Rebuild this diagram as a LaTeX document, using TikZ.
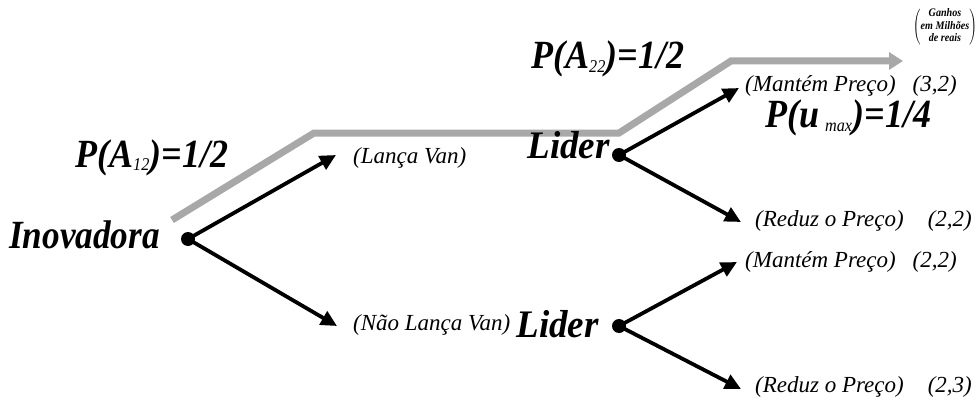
\documentclass[tikz,border=0pt]{standalone}
\usepackage{fontspec}
\setmainfont{Liberation Serif}
\usetikzlibrary{arrows.meta}
\tikzset{
  big/.style={font=\bfseries\itshape\fontsize{40}{40}\selectfont, inner sep=0pt, xscale=0.88},
  lider/.style={font=\bfseries\itshape\fontsize{39}{39}\selectfont, inner sep=0pt, anchor=base east, xscale=0.95},
  prob/.style={font=\bfseries\itshape\fontsize{40}{40}\selectfont, inner sep=0pt, anchor=base west, xscale=0.9},
  lab/.style={font=\itshape\fontsize{23}{23}\selectfont, inner sep=0pt, anchor=west},
  dotn/.style={circle, fill=black, minimum size=14pt, inner sep=0pt},
  arr/.style={line width=3.8pt, -{Triangle[length=16pt,width=15pt]}, shorten <=2pt},
  grayline/.style={line width=7pt, draw={rgb,255:red,168;green,168;blue,168}, line join=miter, -{Triangle[length=14pt,width=17pt]}},
}
\newcommand{\subtx}[1]{\textsubscript{\fontsize{18}{18}\selectfont\mdseries #1}}
\begin{document}
\begin{tikzpicture}[x=1pt,y=-1pt]
\useasboundingbox (0,0) rectangle (976,401);
% gray probability path
\coordinate (g0) at (172,220);
\coordinate (g1) at (314,133);
\coordinate (g2) at (619,133);
\coordinate (g3) at (731,61);
\coordinate (g4) at (903,61);
\draw[grayline] (g0) -- (g1) -- (g2) -- (g3) -- (g4);
% nodes
\node[big, anchor=base east] (ino) at (160,248) {Inovadora};
\node[dotn] (d1) at (188,239) {};
\node[lider] (lid1) at (610,158) {Lider};
\node[dotn] (d2) at (619,155) {};
\node[lider] (lid2) at (599,337) {Lider};
\node[dotn] (d3) at (619,326) {};
% labels
\node[lab] (lv) at (353,158) {(Lança Van)};
\node[lab] (nlv) at (353,325) {(Não Lança Van)};
\node[lab] (m1) at (745,86) {(Mantém Preço)\hspace{17pt}(3,2)};
\node[lab] (r1) at (755,221) {(Reduz o Preço)\hspace{24pt}(2,2)};
\node[lab] (m2) at (745,262) {(Mantém Preço)\hspace{17pt}(2,2)};
\node[lab] (r2) at (755,387) {(Reduz o Preço)\hspace{24pt}(2,3)};
% arrow tips
\coordinate (t1) at (336,155);
\coordinate (t2) at (337,326);
\coordinate (t3) at (739,88);
\coordinate (t4) at (741,222);
\coordinate (t5) at (737,262);
\coordinate (t6) at (741,389);
\draw[arr] (d1.center) -- (t1);
\draw[arr] (d1.center) -- (t2);
\draw[arr] (d2.center) -- (t3);
\draw[arr] (d2.center) -- (t4);
\draw[arr] (d3.center) -- (t5);
\draw[arr] (d3.center) -- (t6);
% probabilities
\node[prob] (pa12) at (75,167) {P(A\subtx{12})=1/2};
\node[prob] (pa22) at (531,69) {P(A\subtx{22})=1/2};
\node[prob] (pu) at (765,128) {P(u\,\subtx{max})=1/4};
% gains legend
\node[inner sep=0pt, xscale=0.88] (gan) at (945,27) {$\left(\vcenter{\hbox{\fontsize{11.5}{12.5}\selectfont\bfseries\itshape\begin{tabular}{@{}c@{}}Ganhos\\em Milhões\\de reais\end{tabular}}}\right)$};
\end{tikzpicture}
\end{document}
